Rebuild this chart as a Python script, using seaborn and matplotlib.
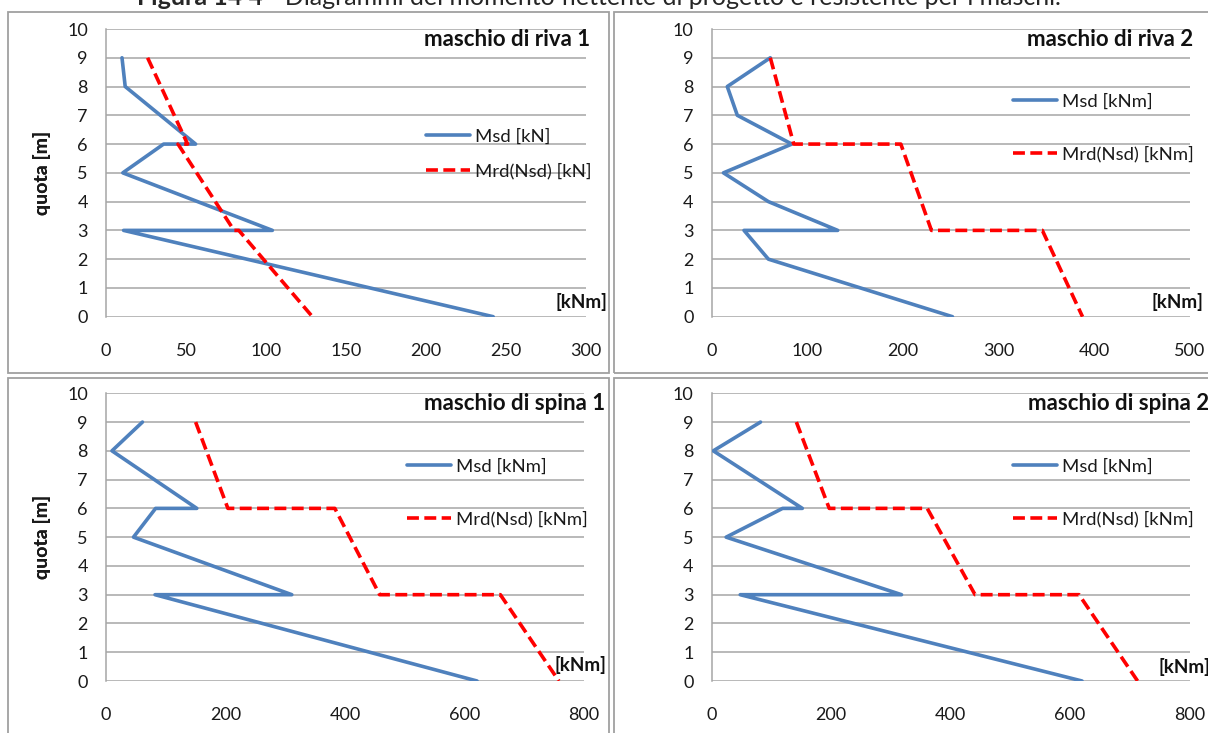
import matplotlib
matplotlib.use("Agg")
import matplotlib.pyplot as plt
from matplotlib.patches import Rectangle
import seaborn as sns
import pandas as pd

# ---------------- data ----------------
titles = ["maschio di riva 1", "maschio di riva 2", "maschio di spina 1", "maschio di spina 2"]
msd_labels = ["Msd [kN]", "Msd [kNm]", "Msd [kNm]", "Msd [kNm]"]
mrd_labels = ["Mrd(Nsd) [kN]", "Mrd(Nsd) [kNm]", "Mrd(Nsd) [kNm]", "Mrd(Nsd) [kNm]"]
x_max = [300, 500, 800, 800]
x_step = [50, 100, 200, 200]
y_ticks = [0, 1, 2, 3, 4, 5, 6, 7, 8, 9, 10]

riva1_msd_q = [9, 8, 6, 6, 5, 3, 3, 0]
riva1_msd = [10, 12, 56, 36, 10.5, 104, 11, 242]
riva1_mrd_q = [9, 6, 6, 3, 3, 0]
riva1_mrd = [26, 51, 45, 80, 83, 129]

riva2_msd_q = [9, 8, 7, 6, 5, 4, 3, 3, 2, 0]
riva2_msd = [61.5, 16.5, 27, 84, 12.5, 59.5, 132, 34, 59.5, 252]
riva2_mrd_q = [9, 6, 6, 3, 3, 0]
riva2_mrd = [61.5, 86, 198, 230, 346, 388]

spina1_msd_q = [9, 8, 6, 6, 5, 3, 3, 0]
spina1_msd = [61, 10, 152, 83, 46, 311, 82, 621]
spina1_mrd_q = [9, 6, 6, 3, 3, 0]
spina1_mrd = [150, 204, 383, 458, 660, 758]

spina2_msd_q = [9, 8, 6, 6, 5, 3, 3, 0]
spina2_msd = [82, 3, 152, 119, 24.5, 318, 48, 620]
spina2_mrd_q = [9, 6, 6, 3, 3, 0]
spina2_mrd = [142, 197, 361, 441, 615, 713]

fig_caption_bold = "Figura 14 4"
fig_caption_rest = " - Diagrammi del momento flettente di progetto e resistente per i maschi."

msd_sets = [(riva1_msd_q, riva1_msd), (riva2_msd_q, riva2_msd),
            (spina1_msd_q, spina1_msd), (spina2_msd_q, spina2_msd)]
mrd_sets = [(riva1_mrd_q, riva1_mrd), (riva2_mrd_q, riva2_mrd),
            (spina1_mrd_q, spina1_mrd), (spina2_mrd_q, spina2_mrd)]

# ---------------- style ----------------
sns.set_style("white")
plt.rcParams["font.family"] = ["Lato", "DejaVu Sans"]

W, H = 1208, 733
fig = plt.figure(figsize=(W / 100, H / 100), dpi=100)

BLUE = "#4F81BD"
RED = "#FF0000"
GRID = "#A6A6A6"
BOX = "#A0A0A0"
TXT = "#1a1a1a"
FS_TICK = 13
FS_LEG = 13.3
FS_TITLE = 16
FS_UNIT = 13.5
FS_YLAB = 14

def fr(x0, y0, x1, y1):
    return [x0 / W, 1 - y1 / H, (x1 - x0) / W, (y1 - y0) / H]

# outer chart boxes (pixel coordinates)
boxes = [(8, 12, 609, 373), (614, 12, 1215, 373), (8, 378, 609, 740), (614, 378, 1215, 740)]
for (x0, y0, x1, y1) in boxes:
    fig.patches.append(Rectangle((x0 / W, 1 - y1 / H), (x1 - x0) / W, (y1 - y0) / H,
                                 transform=fig.transFigure, fill=False,
                                 edgecolor=BOX, lw=1.3, zorder=0))

# axes positions (pixel)
axes_px = [(106, 29, 586, 316.7), (711.5, 29, 1189.6, 316.7),
           (106, 393.3, 584, 681), (711.5, 393.3, 1189.6, 681)]
legend_anchor = [(0.651, 0.680, 1.0), (0.615, 0.802, 1.95), (0.614, 0.800, 1.95), (0.615, 0.800, 1.95)]
legend_box = [(416, 120, 598, 188), (1003, 75, 1201, 180), (397, 440, 595, 543), (1003, 440, 1205, 543)]
title_box = [(416, 18, 598, 50), (1003, 18, 1205, 50), (410, 382, 607, 415), (1003, 382, 1215, 415)]
title_x = [590, 1193, 605, 1028]
title_ha = ["right", "right", "right", "left"]
title_y = [39, 39, 403, 403]
unit_x = [607, 1203, 606, 1159]
unit_ha = ["right", "right", "right", "left"]
unit_y = [302, 302, 665, 667]

for i in range(4):
    ax0, ay0, ax1, ay1 = axes_px[i]
    ax = fig.add_axes(fr(ax0, ay0, ax1, ay1))
    ax.set_facecolor("none")

    q, m = msd_sets[i]
    sns.lineplot(data=pd.DataFrame({"M": m, "quota": q}), x="M", y="quota",
                 sort=False, estimator=None, ax=ax, color=BLUE, lw=2.6,
                 label=msd_labels[i], zorder=4)
    q, m = mrd_sets[i]
    sns.lineplot(data=pd.DataFrame({"M": m, "quota": q}), x="M", y="quota",
                 sort=False, estimator=None, ax=ax, color=RED, lw=2.6,
                 label=mrd_labels[i], zorder=4)
    ax.lines[-1].set_linestyle((0, (3.3, 1.5)))

    ax.set_xlim(0, x_max[i])
    ax.set_ylim(0, 10)
    ax.set_xticks(list(range(0, x_max[i] + 1, x_step[i])))
    ax.set_yticks(y_ticks)
    ax.grid(axis="y", color=GRID, lw=1.1)
    ax.set_axisbelow(True)
    for s in ["top", "right", "bottom"]:
        ax.spines[s].set_visible(False)
    ax.spines["left"].set_color(GRID)
    ax.spines["left"].set_linewidth(1.1)
    ax.tick_params(axis="x", length=0, pad=19, labelsize=FS_TICK, colors=TXT)
    ax.tick_params(axis="y", length=0, pad=13, labelsize=FS_TICK, colors=TXT)
    ax.set_xlabel("")
    ax.set_ylabel("quota [m]", fontsize=FS_YLAB, fontweight="bold", color=TXT)
    ax.yaxis.set_label_coords((51 - ax0) / (ax1 - ax0), 0.5)

    # white areas behind title and legend (as in the spreadsheet chart)
    for (bx0, by0, bx1, by1) in (title_box[i], legend_box[i]):
        fig.patches.append(Rectangle((bx0 / W, 1 - by1 / H), (bx1 - bx0) / W, (by1 - by0) / H,
                                     transform=fig.transFigure, facecolor="white",
                                     edgecolor="none", zorder=1))
    ax.set_zorder(2)

    lx, ly, lsp = legend_anchor[i]
    leg = ax.legend(loc="upper left", bbox_to_anchor=(lx, ly), frameon=False,
                    fontsize=FS_LEG, handlelength=2.4, labelspacing=lsp,
                    handletextpad=0.27, borderaxespad=0.0)
    for t in leg.get_texts():
        t.set_color(TXT)

    fig.text(title_x[i] / W, 1 - title_y[i] / H, titles[i], ha=title_ha[i], va="center",
             fontsize=FS_TITLE, fontweight="bold", color="#111111")
    fig.text(unit_x[i] / W, 1 - unit_y[i] / H, "[kNm]", ha=unit_ha[i], va="center",
             fontsize=FS_UNIT, fontweight="bold", color="#111111")

# caption at the top, partly cut by the image border
t1 = fig.text(137 / W, 1 - 5 / H, fig_caption_bold, ha="left", va="baseline",
              fontsize=18, fontweight="bold")
fig.canvas.draw()
bb = t1.get_window_extent()
fig.text(bb.x1 / W, 1 - 5 / H, fig_caption_rest, ha="left", va="baseline", fontsize=18)

fig.savefig("out.png", dpi=100)
